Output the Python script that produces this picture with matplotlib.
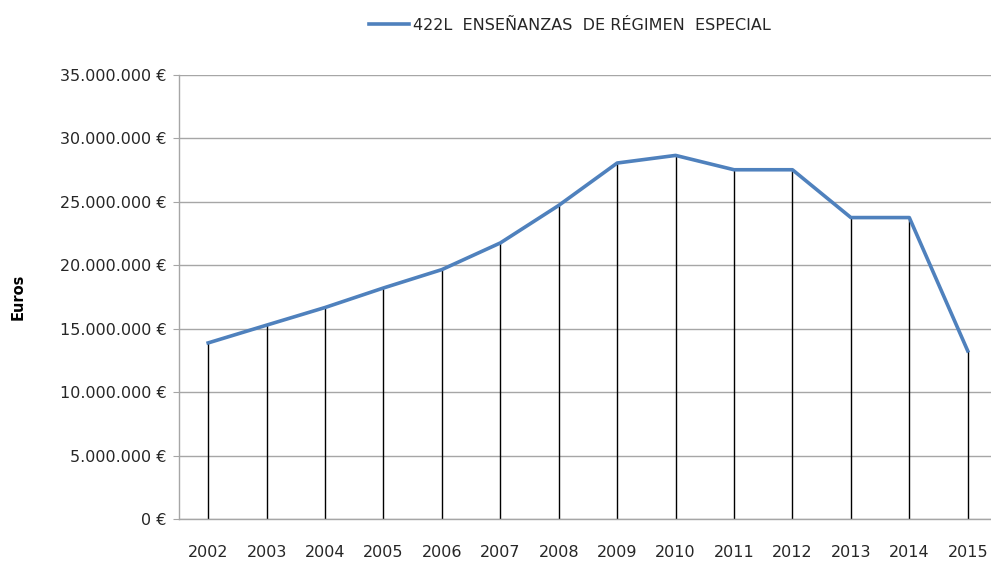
import numpy as np
import matplotlib.pyplot as plt
from matplotlib.ticker import FuncFormatter, MultipleLocator

# spending per year, programme 422L
years = ['2002', '2003', '2004', '2005', '2006', '2007', '2008',
         '2009', '2010', '2011', '2012', '2013', '2014', '2015']
euros = [13880000, 15280000, 16670000, 18210000, 19660000, 21760000, 24720000,
         28060000, 28660000, 27530000, 27530000, 23760000, 23760000, 13250000]
series_label = '422L  ENSEÑANZAS  DE RÉGIMEN  ESPECIAL'

plt.rcParams['font.family'] = ['DejaVu Sans']

fig = plt.figure(figsize=(9.91, 5.63), dpi=100)
ax = fig.add_axes([0.1806, 0.0782, 0.8254, 0.7886])

x = np.arange(len(years))

# drop lines from each point down to the axis
ax.vlines(x, 0, euros, color='black', linewidth=1.0, zorder=2)
line, = ax.plot(x, euros, color='#4F81BD', linewidth=2.6, zorder=3,
                solid_joinstyle='round', label=series_label)

ax.set_xlim(-0.5, len(years) - 0.5)
ax.set_ylim(0, 35000000)
ax.yaxis.set_major_locator(MultipleLocator(5000000))


def euro_fmt(v, pos):
    return '{:,.0f} €'.format(v).replace(',', '.')


ax.yaxis.set_major_formatter(FuncFormatter(euro_fmt))
ax.set_xticks(x)
ax.set_xticklabels(years)

ax.grid(axis='y', color='#A6A6A6', linewidth=1.0, zorder=0)
ax.set_axisbelow(True)

for side in ['top', 'right']:
    ax.spines[side].set_visible(False)
for side in ['left', 'bottom']:
    ax.spines[side].set_color('#A6A6A6')
    ax.spines[side].set_linewidth(1.0)

ax.tick_params(axis='y', length=4, color='#A6A6A6', labelsize=11.5,
               labelcolor='#262626', pad=5)
ax.tick_params(axis='x', length=0, labelsize=11.5, labelcolor='#262626', pad=19)

ax.set_ylabel('Euros', fontsize=10.5, fontweight='bold')
ax.yaxis.set_label_coords(-0.188, 0.5)

fig.legend(handles=[line], loc='center', bbox_to_anchor=(0.575, 0.955),
           frameon=False, fontsize=11.5, handlelength=2.5, handletextpad=0.2,
           labelcolor='#262626')

fig.savefig('out.png', dpi=100)
